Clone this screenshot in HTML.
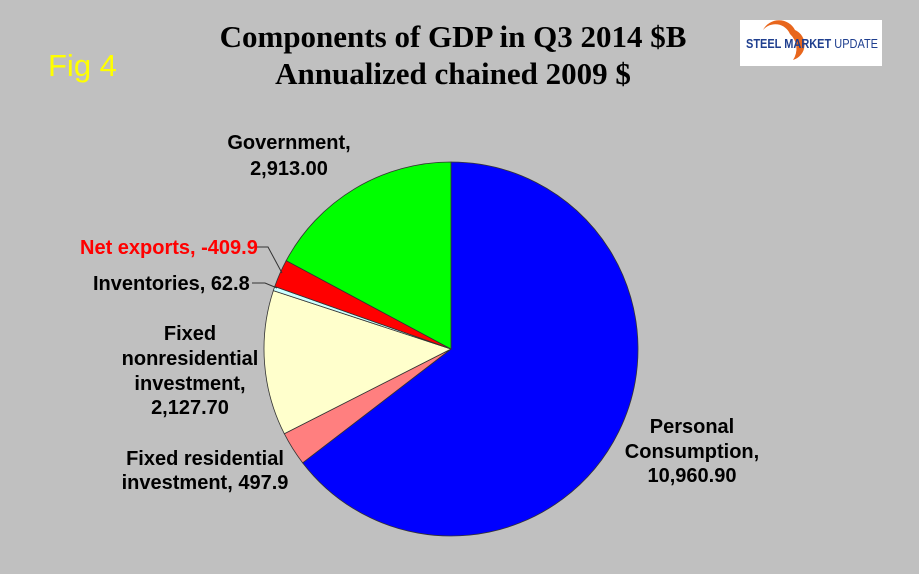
<!DOCTYPE html>
<html><head><meta charset="utf-8"><style>
body{margin:0;width:919px;height:569px;background:#c0c0c0;overflow:hidden;font-family:"Liberation Sans",sans-serif}
</style></head><body>
<svg width="919" height="569">
<rect width="919" height="569" fill="#c0c0c0"/>
<text x="453" y="47" text-anchor="middle" font-family="Liberation Serif" font-weight="bold" font-size="31">Components of GDP in Q3 2014 $B</text>
<text x="453" y="84" text-anchor="middle" font-family="Liberation Serif" font-weight="bold" font-size="31">Annualized chained 2009 $</text>
<text x="48" y="76" fill="#ffff00" font-size="31">Fig 4</text>
<g>
<rect x="740" y="20" width="142" height="46" fill="#fff"/>
<path d="M763 30 A18 18 0 0 1 795 30 A16 16 0 0 1 793 60 A20 20 0 0 0 790 34 A16 16 0 0 0 763 30Z" fill="#e8661c"/>
<text x="746" y="48" font-size="13" font-weight="bold" fill="#1f3f8f" textLength="132" lengthAdjust="spacingAndGlyphs">STEEL MARKET <tspan font-weight="normal">UPDATE</tspan></text>
</g>
<g id="pie"></g>
<g stroke="#333" fill="none" stroke-width="1">
<polyline points="257,247 268,247 282,273"/>
<polyline points="252,283 265,283 277,288"/>
</g>
<g font-weight="bold" font-size="20">
<text x="289" y="149" text-anchor="middle">Government,</text>
<text x="289" y="175" text-anchor="middle">2,913.00</text>
<text x="80" y="254" fill="#ff0000">Net exports, -409.9</text>
<text x="93" y="290">Inventories, 62.8</text>
<text x="190" y="340" text-anchor="middle">Fixed</text>
<text x="190" y="365" text-anchor="middle">nonresidential</text>
<text x="190" y="390" text-anchor="middle">investment,</text>
<text x="190" y="414" text-anchor="middle">2,127.70</text>
<text x="205" y="465" text-anchor="middle">Fixed residential</text>
<text x="205" y="489" text-anchor="middle">investment, 497.9</text>
<text x="692" y="433" text-anchor="middle">Personal</text>
<text x="692" y="458" text-anchor="middle">Consumption,</text>
<text x="692" y="482" text-anchor="middle">10,960.90</text>
</g>
</svg>
<script>
const categories=["Personal Consumption","Fixed residential investment","Fixed nonresidential investment","Inventories","Net exports","Government"];
const values=[10960.9,497.9,2127.7,62.8,-409.9,2913.0];
const colors=["#0000ff","#ff7f7f","#ffffcc","#ccffff","#ff0000","#00ff00"];
const cx=451,cy=349,r=187;
const g=document.getElementById('pie');
const total=values.reduce((a,b)=>a+Math.abs(b),0);
let a0=0;
values.forEach((v,i)=>{
  const a1=a0+Math.abs(v)/total*2*Math.PI;
  const x0=cx+r*Math.sin(a0),y0=cy-r*Math.cos(a0),x1=cx+r*Math.sin(a1),y1=cy-r*Math.cos(a1);
  const p=document.createElementNS('http://www.w3.org/2000/svg','path');
  p.setAttribute('d',`M${cx},${cy}L${x0},${y0}A${r},${r} 0 ${a1-a0>Math.PI?1:0} 1 ${x1},${y1}Z`);
  p.setAttribute('fill',colors[i]);p.setAttribute('stroke','#333');p.setAttribute('stroke-width','0.8');
  
  
  g.appendChild(p);a0=a1;
});
</script>
</body></html>
